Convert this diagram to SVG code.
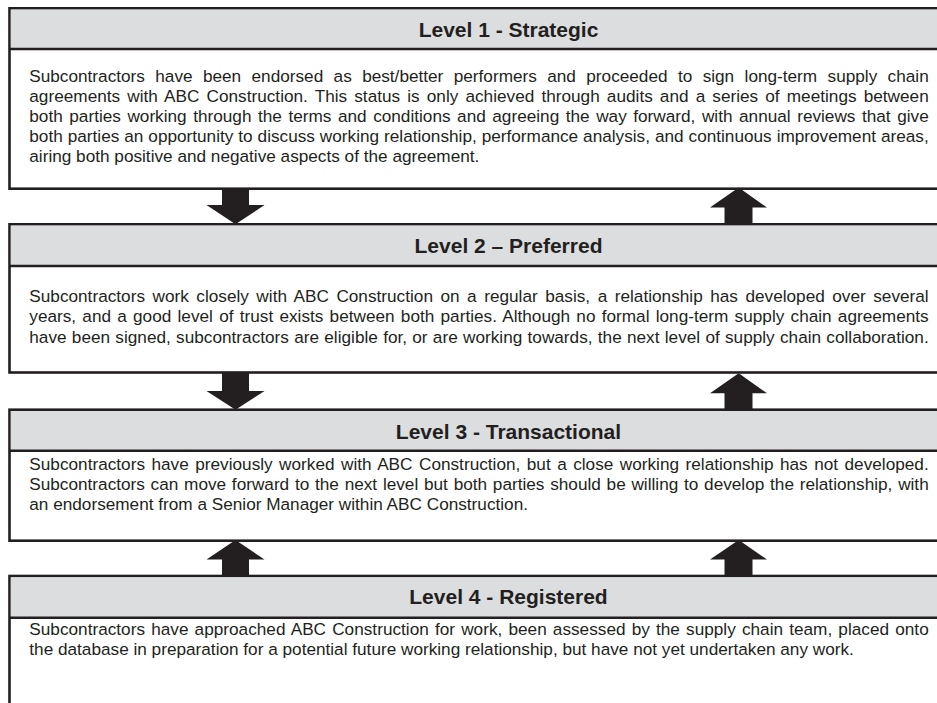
<svg xmlns="http://www.w3.org/2000/svg" width="937" height="703" viewBox="0 0 937 703">
  <style>
    .frame { fill: #ffffff; stroke: #231f20; stroke-width: 2.6; }
    .band { fill: #dcddde; }
    .rule { stroke: #231f20; stroke-width: 2.4; }
    .title { font-family: "Liberation Sans", Arial, sans-serif; font-weight: bold; font-size: 21px; fill: #231f20; text-anchor: middle; }
    .body { font-family: "Liberation Sans", Arial, sans-serif; font-size: 17.2px; fill: #231f20; }
    .arrow { fill: #231f20; }
  </style>

  <rect width="937" height="703" fill="#ffffff"/>

  <!-- Level 1 -->
  <g id="level1">
    <rect class="frame" x="9.5" y="8.3" width="1000" height="180.4"/>
    <rect class="band" x="10.8" y="9.6" width="1000" height="39.4"/>
    <line class="rule" x1="9.5" y1="49" x2="1010" y2="49"/>
    <text class="title" x="508.5" y="37.3">Level 1 - Strategic</text>
    <text class="body" x="29.3" y="82" word-spacing="5.62" textLength="899.4" lengthAdjust="spacing">Subcontractors have been endorsed as best/better performers and proceeded to sign long-term supply chain</text>
    <text class="body" x="29.3" y="102" word-spacing="2.3" textLength="899.4" lengthAdjust="spacing">agreements with ABC Construction. This status is only achieved through audits and a series of meetings between</text>
    <text class="body" x="29.3" y="122" word-spacing="1.77" textLength="899.4" lengthAdjust="spacing">both parties working through the terms and conditions and agreeing the way forward, with annual reviews that give</text>
    <text class="body" x="29.3" y="142" word-spacing="0.18" textLength="899.4" lengthAdjust="spacing">both parties an opportunity to discuss working relationship, performance analysis, and continuous improvement areas,</text>
    <text class="body" x="29.3" y="162">airing both positive and negative aspects of the agreement.</text>
  </g>

  <!-- Level 2 -->
  <g id="level2">
    <rect class="frame" x="9.5" y="224.3" width="1000" height="148.2"/>
    <rect class="band" x="10.8" y="225.6" width="1000" height="40.4"/>
    <line class="rule" x1="9.5" y1="266" x2="1010" y2="266"/>
    <text class="title" x="508.5" y="252.7">Level 2 – Preferred</text>
    <text class="body" x="29.3" y="302" word-spacing="2.71" textLength="899.4" lengthAdjust="spacing">Subcontractors work closely with ABC Construction on a regular basis, a relationship has developed over several</text>
    <text class="body" x="29.3" y="322.3" word-spacing="1.43" textLength="899.4" lengthAdjust="spacing">years, and a good level of trust exists between both parties. Although no formal long-term supply chain agreements</text>
    <text class="body" x="29.3" y="342.7" word-spacing="0.47" textLength="899.4" lengthAdjust="spacing">have been signed, subcontractors are eligible for, or are working towards, the next level of supply chain collaboration.</text>
  </g>

  <!-- Level 3 -->
  <g id="level3">
    <rect class="frame" x="9.5" y="409.7" width="1000" height="131"/>
    <rect class="band" x="10.8" y="411" width="1000" height="39.7"/>
    <line class="rule" x1="9.5" y1="450.7" x2="1010" y2="450.7"/>
    <text class="title" x="508.5" y="439.3">Level 3 - Transactional</text>
    <text class="body" x="29.3" y="470" word-spacing="1.67" textLength="899.4" lengthAdjust="spacing">Subcontractors have previously worked with ABC Construction, but a close working relationship has not developed.</text>
    <text class="body" x="29.3" y="490" word-spacing="0.98" textLength="899.4" lengthAdjust="spacing">Subcontractors can move forward to the next level but both parties should be willing to develop the relationship, with</text>
    <text class="body" x="29.3" y="510">an endorsement from a Senior Manager within ABC Construction.</text>
  </g>

  <!-- Level 4 (runs past the lower edge) -->
  <g id="level4">
    <rect class="frame" x="9.5" y="576" width="1000" height="160"/>
    <rect class="band" x="10.8" y="577.3" width="1000" height="40.4"/>
    <line class="rule" x1="9.5" y1="617.7" x2="1010" y2="617.7"/>
    <text class="title" x="508.5" y="604">Level 4 - Registered</text>
    <text class="body" x="29.3" y="635" word-spacing="1.36" textLength="899.4" lengthAdjust="spacing">Subcontractors have approached ABC Construction for work, been assessed by the supply chain team, placed onto</text>
    <text class="body" x="29.3" y="655">the database in preparation for a potential future working relationship, but have not yet undertaken any work.</text>
  </g>

  <!-- block arrows between levels -->
  <g id="connectors">
    <!-- 1 down to 2 -->
    <polygon class="arrow" points="222,188.7 249,188.7 249,205 264.5,205 235.5,224.3 206.5,205 222,205"/>
    <!-- 2 up to 1 -->
    <polygon class="arrow" points="724.5,224.3 752.5,224.3 752.5,207.5 767,207.5 738.7,187.5 710,207.5 724.5,207.5"/>
    <!-- 2 down to 3 -->
    <polygon class="arrow" points="222,372.5 249,372.5 249,391 264.5,391 235.5,409.7 206.5,391 222,391"/>
    <!-- 3 up to 2 -->
    <polygon class="arrow" points="724.5,409.7 752.5,409.7 752.5,393.3 767,393.3 738.7,373.3 710,393.3 724.5,393.3"/>
    <!-- 4 up to 3, left -->
    <polygon class="arrow" points="222,576 249,576 249,559.5 264.5,559.5 235.5,540 206.5,559.5 222,559.5"/>
    <!-- 4 up to 3, right -->
    <polygon class="arrow" points="724.5,576 752.5,576 752.5,559.5 767,559.5 738.7,540 710,559.5 724.5,559.5"/>
  </g>
</svg>
